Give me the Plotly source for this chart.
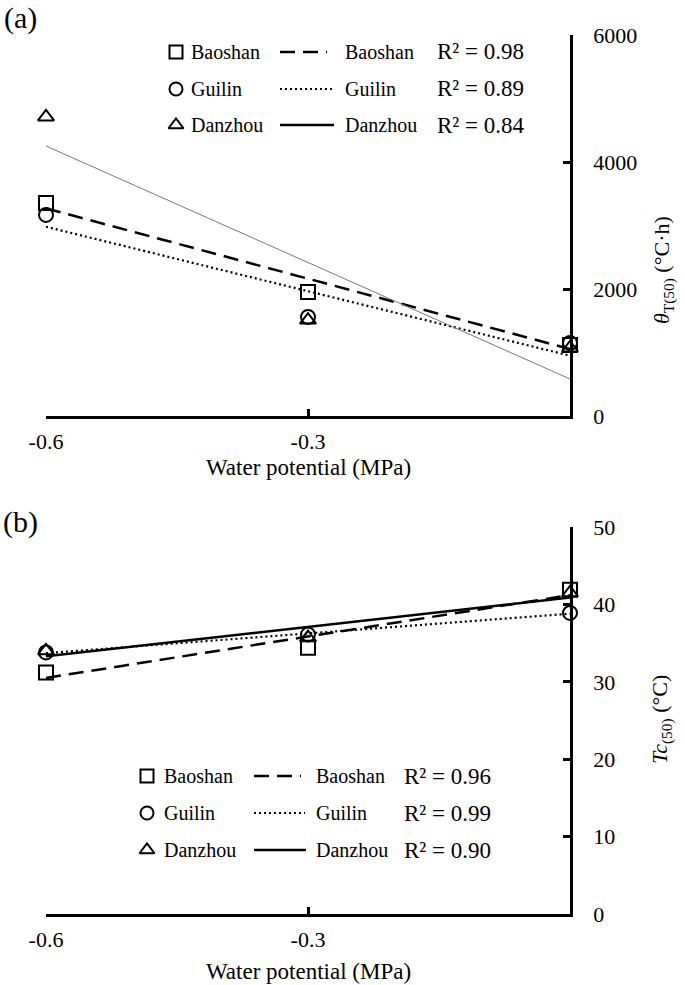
import plotly.graph_objects as go

# water potential treatments (MPa)
water_potential = [-0.6, -0.3, 0.0]
fit_x = [-0.6, 0.0]
x_tick_vals = [-0.6, -0.3]
x_tick_text = ["-0.6", "-0.3"]
sites = ["Baoshan", "Guilin", "Danzhou"]

# (a) thermal time theta_T(50), °C·h
theta_baoshan = [3355, 1953, 1118]
theta_guilin = [3166, 1560, 1150]
theta_danzhou = [4709, 1510, 1071]
theta_fit_baoshan = [3270, 1055]
theta_fit_guilin = [2980, 950]
theta_fit_danzhou = [4252, 583]
theta_r2 = ["0.98", "0.89", "0.84"]
theta_ticks = [0, 2000, 4000, 6000]

# (b) ceiling temperature Tc(50), °C
tc_baoshan = [31.2, 34.4, 41.9]
tc_guilin = [33.8, 36.1, 38.9]
tc_danzhou = [34.0, 35.7, 41.5]
tc_fit_baoshan = [30.5, 41.2]
tc_fit_guilin = [33.7, 38.8]
tc_fit_danzhou = [33.3, 40.9]
tc_r2 = ["0.96", "0.99", "0.90"]
tc_ticks = [0, 10, 20, 30, 40, 50]

W, H = 685, 985
FONT = "Liberation Serif"


def px(x):
    return x / W


def py(y):
    return 1 - y / H


symbols = ["square-open", "circle-open", "triangle-up-open"]
line_styles = [
    dict(color="black", width=2.5, dash="15px,8px"),
    dict(color="black", width=2.2, dash="2px,3px"),
    dict(color="black", width=2.5),
]

fig = go.Figure()


def add_panel(points, fits, xa, ya, danzhou_fit_style):
    styles = line_styles[:2] + [danzhou_fit_style]
    for fit, st in zip(fits, styles):
        fig.add_trace(go.Scatter(x=fit_x, y=fit, mode="lines", line=st,
                                 xaxis=xa, yaxis=ya, showlegend=False,
                                 cliponaxis=False))
    for vals, sym in zip(points, symbols):
        fig.add_trace(go.Scatter(x=water_potential, y=vals, mode="markers",
                                 marker=dict(symbol=sym, size=14, color="black",
                                             line=dict(width=2, color="black")),
                                 xaxis=xa, yaxis=ya, showlegend=False,
                                 cliponaxis=False))


add_panel([theta_baoshan, theta_guilin, theta_danzhou],
          [theta_fit_baoshan, theta_fit_guilin, theta_fit_danzhou],
          "x", "y", dict(color="#777777", width=1))
add_panel([tc_baoshan, tc_guilin, tc_danzhou],
          [tc_fit_baoshan, tc_fit_guilin, tc_fit_danzhou],
          "x2", "y2", line_styles[2])

annotations = []


def legend(x_marker, x_text1, x_line0, x_line1, x_text2, x_r2, rows, r2):
    # sample markers and lines on a pixel-space overlay axis
    for i, (sym, st) in enumerate(zip(symbols, line_styles)):
        y = rows[i]
        fig.add_trace(go.Scatter(x=[x_marker], y=[y], mode="markers",
                                 marker=dict(symbol=sym, size=13, color="black",
                                             line=dict(width=2, color="black")),
                                 xaxis="x3", yaxis="y3", showlegend=False))
        fig.add_trace(go.Scatter(x=[x_line0, x_line1[i]], y=[y, y], mode="lines",
                                 line=st, xaxis="x3", yaxis="y3", showlegend=False))
        annotations.append(dict(x=px(x_text1), y=py(y), text=sites[i], xanchor="left"))
        annotations.append(dict(x=px(x_text2), y=py(y), text=sites[i], xanchor="left"))
        annotations.append(dict(x=px(x_r2), y=py(y), text="R² = " + r2[i],
                                xanchor="right", font=dict(size=23)))


legend(176, 189, 280, [327, 334, 334], 343, 526, [52, 89, 125], theta_r2)
legend(147, 162, 254, [301, 305, 306], 314, 493, [776, 813, 850], tc_r2)

annotations += [
    dict(x=px(20), y=py(18), text="(a)", font=dict(size=30)),
    dict(x=px(20), y=py(522), text="(b)", font=dict(size=30)),
    dict(x=px(308), y=py(468), text="Water potential (MPa)", font=dict(size=23)),
    dict(x=px(308), y=py(971), text="Water potential (MPa)", font=dict(size=23)),
    dict(x=px(664), y=py(270), text="<i>θ</i><sub>T(50)</sub> (°C·h)",
         textangle=-90, font=dict(size=22)),
    dict(x=px(661), y=py(720), text="<i>Tc</i><sub>(50)</sub> (°C)",
         textangle=-90, font=dict(size=22)),
]
for a in annotations:
    a.setdefault("xref", "paper")
    a.setdefault("yref", "paper")
    a.setdefault("showarrow", False)
    a.setdefault("xanchor", "center")
    a.setdefault("yanchor", "middle")
    f = a.setdefault("font", {})
    f.setdefault("size", 20)
    f["family"] = FONT
    f["color"] = "black"

x_axis = dict(domain=[px(46), px(570)], range=[-0.6, 0], showline=True,
              linecolor="black", linewidth=2.5, ticks="inside", ticklen=7,
              tickwidth=2.5, tickcolor="black", tickvals=x_tick_vals,
              ticktext=x_tick_text, showgrid=False, zeroline=False,
              tickfont=dict(family=FONT, size=22, color="black"),
              ticklabelstandoff=4, automargin=False)
y_axis = dict(side="right", showline=True, linecolor="black", linewidth=2.5,
              ticks="inside", ticklen=7, tickwidth=2.5, tickcolor="black",
              showgrid=False, zeroline=False, ticklabelstandoff=16,
              tickfont=dict(family=FONT, size=22, color="black"),
              automargin=False)

fig.update_layout(
    width=W, height=H,
    margin=dict(l=0, r=0, t=0, b=0, pad=0, autoexpand=False),
    paper_bgcolor="white", plot_bgcolor="rgba(0,0,0,0)",
    showlegend=False,
    xaxis=dict(x_axis, anchor="y"),
    yaxis=dict(y_axis, anchor="x", domain=[py(416), py(35)], range=[0, 6000],
               tickvals=theta_ticks),
    xaxis2=dict(x_axis, anchor="y2"),
    yaxis2=dict(y_axis, anchor="x2", domain=[py(914), py(527)], range=[0, 50],
                tickvals=tc_ticks),
    xaxis3=dict(domain=[0, 1], range=[0, W], visible=False,
                anchor="y3", automargin=False),
    yaxis3=dict(domain=[0, 1], range=[H, 0], visible=False,
                anchor="x3", automargin=False),
    annotations=annotations,
)

# drop the browser's default 8px body margin so the figure fills the window
fig.write_html("out.html", config={"displayModeBar": False},
               post_script="document.body.style.margin = '0';")
